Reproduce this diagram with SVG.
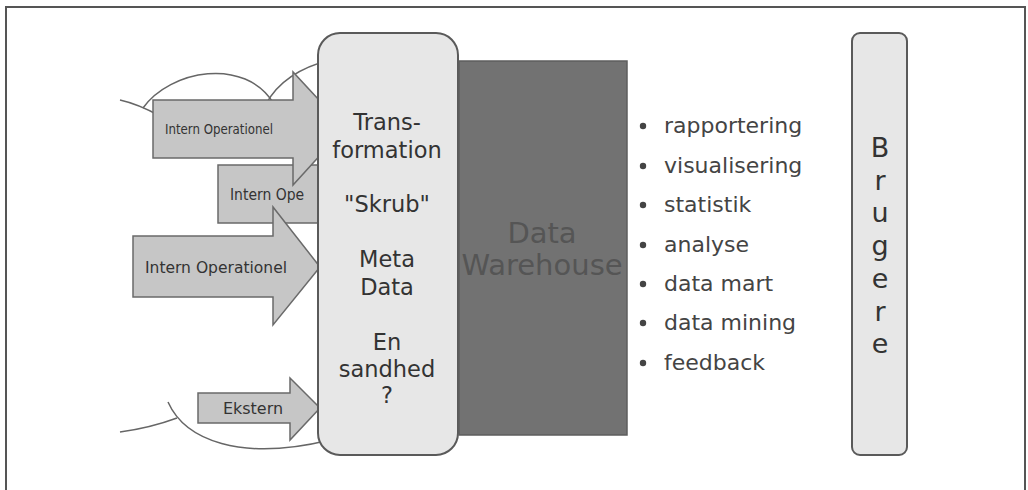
<svg xmlns="http://www.w3.org/2000/svg" width="1028" height="490" viewBox="0 0 1028 490">
<style>
.frame{fill:none;stroke:#555;stroke-width:2}
.arc{fill:none;stroke:#666;stroke-width:1.5}
.arrow{fill:#c6c6c6;stroke:#6a6a6a;stroke-width:1.5;stroke-linejoin:miter}
.alab{font-family:"DejaVu Sans Condensed","DejaVu Sans",sans-serif;fill:#333;text-anchor:middle}
.box{fill:#e7e7e7;stroke:#5a5a5a;stroke-width:2}
.btxt{font-family:"DejaVu Sans",sans-serif;font-size:22.5px;fill:#333;text-anchor:middle}
.dw{fill:#727272;stroke:#5e5e5e;stroke-width:1.5}
.dwtxt{font-family:"DejaVu Sans",sans-serif;font-size:29px;fill:#555;text-anchor:middle}
.li{font-family:"DejaVu Sans",sans-serif;font-size:22px;fill:#444}
.dot{fill:#444}
.utxt{font-family:"DejaVu Sans",sans-serif;font-size:27px;fill:#333;text-anchor:middle}
</style>
<path class="frame" d="M6,495 V7 H1025 V495"/>
<g id="connectors">
<path class="arc" d="M120,100 Q138,104 160,116"/>
<path class="arc" d="M143,108 C170,70 245,56 274,104"/>
<path class="arc" d="M266,104 C278,82 298,68 330,60"/>
<path class="arc" d="M120,432 Q150,428 177,418"/>
<path class="arc" d="M168,402 C185,440 240,462 330,440"/>
</g>
<g id="src2">
<path class="arrow" d="M218,165 H345 V223 H218 Z"/>
<text class="alab" x="230" y="200" font-size="15.5" style="text-anchor:start">Intern Ope</text>
</g>
<g id="src1">
<path class="arrow" d="M153,100 H293 V72 L345,128 L293,185 V158 H153 Z"/>
<text class="alab" x="219" y="134" font-size="14" textLength="108" lengthAdjust="spacingAndGlyphs">Intern Operationel</text>
</g>
<g id="src3">
<path class="arrow" d="M133,236 H273 V207 L320,267 L273,325 V297 H133 Z"/>
<text class="alab" x="216" y="272.5" font-size="16" textLength="142" lengthAdjust="spacingAndGlyphs">Intern Operationel</text>
</g>
<g id="ekstern">
<path class="arrow" d="M198,393 H290 V378 L320,408 L290,440 V423 H198 Z"/>
<text class="alab" x="253" y="414" font-size="16" textLength="60" lengthAdjust="spacingAndGlyphs">Ekstern</text>
</g>
<g id="transformation">
<rect class="box" x="318" y="33" width="140" height="422" rx="22"/>
<text class="btxt" x="387" y="130">Trans-</text>
<text class="btxt" x="387" y="158">formation</text>
<text class="btxt" x="387" y="212">"Skrub"</text>
<text class="btxt" x="387" y="267">Meta</text>
<text class="btxt" x="387" y="295">Data</text>
<text class="btxt" x="387" y="350">En</text>
<text class="btxt" x="387" y="377">sandhed</text>
<text class="btxt" x="387" y="403">?</text>
</g>
<g id="datawarehouse">
<rect class="dw" x="459" y="61" width="168" height="374"/>
<text class="dwtxt" x="542" y="243">Data</text>
<text class="dwtxt" x="542" y="275">Warehouse</text>
</g>
<g id="uses">
<circle class="dot" cx="643" cy="126" r="3.2"/><text class="li" x="664" y="133">rapportering</text>
<circle class="dot" cx="643" cy="166" r="3.2"/><text class="li" x="664" y="173">visualisering</text>
<circle class="dot" cx="643" cy="205" r="3.2"/><text class="li" x="664" y="212">statistik</text>
<circle class="dot" cx="643" cy="245" r="3.2"/><text class="li" x="664" y="252">analyse</text>
<circle class="dot" cx="643" cy="284" r="3.2"/><text class="li" x="664" y="291">data mart</text>
<circle class="dot" cx="643" cy="323" r="3.2"/><text class="li" x="664" y="330">data mining</text>
<circle class="dot" cx="643" cy="363" r="3.2"/><text class="li" x="664" y="370">feedback</text>
</g>
<g id="brugere">
<rect class="box" x="852" y="33" width="55" height="422" rx="8"/>
<text class="utxt" x="880" y="157">B</text>
<text class="utxt" x="880" y="190">r</text>
<text class="utxt" x="880" y="222">u</text>
<text class="utxt" x="880" y="255">g</text>
<text class="utxt" x="880" y="288">e</text>
<text class="utxt" x="880" y="321">r</text>
<text class="utxt" x="880" y="353">e</text>
</g>
</svg>
